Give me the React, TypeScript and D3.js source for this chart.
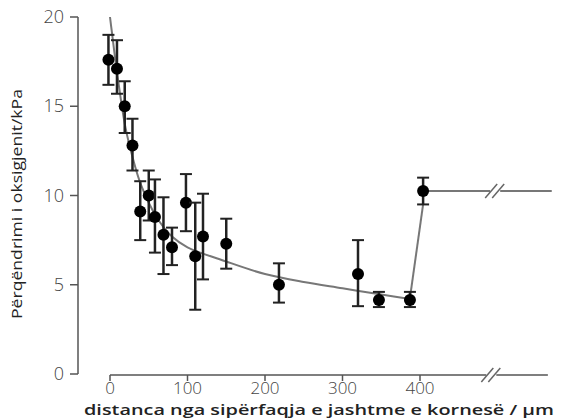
import React from "react";
import * as d3 from "d3";

const xs = [-2, 9, 19, 29, 39, 50, 58, 69, 80, 98, 110, 120, 150, 218, 320, 347, 387, 404];
const means = [17.6, 17.1, 15.0, 12.8, 9.1, 10.0, 8.8, 7.8, 7.1, 9.6, 6.6, 7.7, 7.3, 5.0, 5.6, 4.15, 4.15, 10.25];
const upper = [19.0, 18.7, 16.4, 14.3, 10.8, 11.4, 10.9, 9.9, 8.2, 11.2, 9.6, 10.1, 8.7, 6.2, 7.5, 4.6, 4.6, 11.0];
const lower = [16.2, 15.7, 13.5, 11.4, 7.5, 8.6, 6.8, 5.6, 6.1, 8.0, 3.6, 5.3, 5.9, 4.0, 3.8, 3.75, 3.75, 9.5];

const fitX = [0, 2, 10, 20, 30, 40, 60, 80, 100, 150, 200, 250, 300, 350, 387];
const fitY = [20, 19.3, 16.6, 13.8, 12.0, 10.6, 8.8, 7.7, 7.1, 6.3, 5.6, 5.15, 4.8, 4.45, 4.2];

const yTicks = [0, 5, 10, 15, 20];
const xTicks = [0, 100, 200, 300, 400];

const xAxisEnd = 565;
const xAxisBreak = 492;
const topLineEnd = 570;
const topLineBreak = 497;

export default function App() {
  const x = d3.scaleLinear().domain([0, 400]).range([110, 420]);
  const y = d3.scaleLinear().domain([0, 20]).range([374, 17]);
  const fitLine = d3
    .line<number>()
    .x((_, i) => x(fitX[i]))
    .y((d) => y(d))
    .curve(d3.curveCatmullRom.alpha(0.5));
  const last = xs.length - 1;
  const jump = d3.line<[number, number]>().x((d) => x(d[0])).y((d) => y(d[1]));
  const tickFont = { fontFamily: "Open Sans", fontWeight: 300, fontSize: 17, fill: "#444" };
  const breakMark = (cx: number, cy: number, key: string) => (
    <g key={key}>
      <rect x={cx - 5} y={cy - 2} width={10} height={4} fill="#fff" />
      <line x1={cx - 10} y1={cy + 7} x2={cx + 2} y2={cy - 7} stroke="#666" strokeWidth={1.5} />
      <line x1={cx - 3} y1={cy + 7} x2={cx + 9} y2={cy - 7} stroke="#666" strokeWidth={1.5} />
    </g>
  );
  return (
    <svg width={565} height={419} style={{ position: "absolute", left: 0, top: 0 }}>
      <rect width={565} height={419} fill="#fff" />
      {/* y axis */}
      <line x1={78} x2={78} y1={y(20)} y2={y(0)} stroke="#555" strokeWidth={1.5} />
      {yTicks.map((t) => (
        <g key={"yt" + t}>
          <line x1={70} x2={78} y1={y(t)} y2={y(t)} stroke="#555" strokeWidth={1.5} />
          <text x={64} y={y(t) + 6} textAnchor="end" {...tickFont} fontSize={18}>
            {t}
          </text>
        </g>
      ))}
      {/* x axis */}
      <line x1={x(0)} x2={x(xAxisEnd)} y1={375} y2={375} stroke="#555" strokeWidth={1.5} />
      {xTicks.map((t) => (
        <g key={"xt" + t}>
          <line x1={x(t)} x2={x(t)} y1={375} y2={381} stroke="#555" strokeWidth={1.5} />
          <text x={x(t)} y={394} textAnchor="middle" {...tickFont}>
            {t}
          </text>
        </g>
      ))}
      {breakMark(x(xAxisBreak), 375, "bx")}
      {/* fit curve */}
      <path d={fitLine(fitY) || ""} fill="none" stroke="#777" strokeWidth={2} />
      <path
        d={jump([[xs[last - 1], lower[last - 1] + 0.5], [xs[last], lower[last]]]) || ""}
        fill="none"
        stroke="#777"
        strokeWidth={2}
      />
      <line x1={x(xs[last])} x2={x(topLineEnd)} y1={y(means[last])} y2={y(means[last])} stroke="#777" strokeWidth={2} />
      {breakMark(x(topLineBreak), y(means[last]), "bt")}
      {/* error bars and points */}
      {xs.map((v, i) => (
        <g key={"p" + i}>
          <line x1={x(v)} x2={x(v)} y1={y(upper[i])} y2={y(lower[i])} stroke="#222" strokeWidth={2.5} />
          <line x1={x(v) - 6} x2={x(v) + 6} y1={y(upper[i])} y2={y(upper[i])} stroke="#222" strokeWidth={2} />
          <line x1={x(v) - 6} x2={x(v) + 6} y1={y(lower[i])} y2={y(lower[i])} stroke="#222" strokeWidth={2} />
          <circle cx={x(v)} cy={y(means[i])} r={6} fill="#000" />
        </g>
      ))}
      {/* labels */}
      <text
        transform="translate(22,204) rotate(-90)"
        textAnchor="middle"
        fontFamily="Open Sans"
        fontSize={14}
        fill="#222"
        textLength={230}
        lengthAdjust="spacingAndGlyphs"
      >
        Përqëndrimi i oksigjenit/kPa
      </text>
      <text
        x={319}
        y={415}
        textAnchor="middle"
        fontFamily="Open Sans"
        fontWeight={600}
        fontSize={14.5}
        fill="#222"
        textLength={470}
        lengthAdjust="spacingAndGlyphs"
      >
        distanca nga sipërfaqja e jashtme e kornesë / µm
      </text>
    </svg>
  );
}
